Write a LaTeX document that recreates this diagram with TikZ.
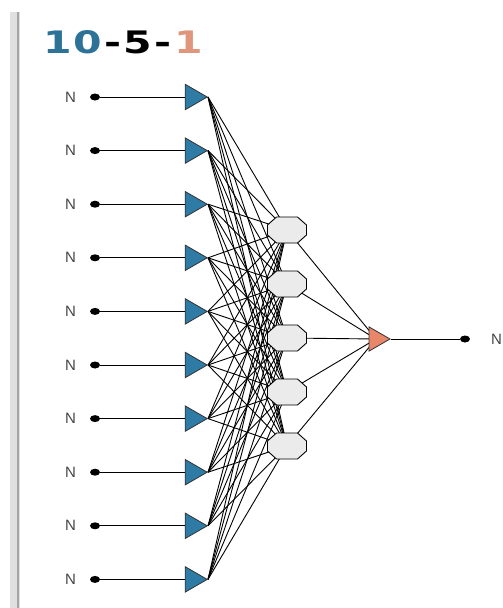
\documentclass[tikz,border=0pt]{standalone}
\usepackage{fontspec}
\setmainfont{Liberation Sans}
\newfontfamily\titlefont{DejaVu Sans}
\usetikzlibrary{shapes.geometric,backgrounds}
\definecolor{inblue}{HTML}{2E7BA6}
\definecolor{titleblue}{HTML}{2C7397}
\definecolor{titleorange}{HTML}{E0967C}
\definecolor{outorange}{HTML}{E8866A}
\definecolor{hidgray}{HTML}{EBEBEB}
\definecolor{labgray}{HTML}{454545}
\begin{document}
\begin{tikzpicture}[x=1pt,y=-1pt,
  intri/.style={regular polygon, regular polygon sides=3, shape border rotate=-90,
    minimum size=29.4pt, inner sep=0pt, fill=inblue, draw=black!80, line width=0.8pt},
  outtri/.style={regular polygon, regular polygon sides=3, shape border rotate=-90,
    minimum size=28pt, inner sep=0pt, fill=outorange, draw=black!80, line width=0.8pt},
  hidshape/.style={fill=hidgray, draw=black, line width=0.9pt, line join=round},
  dotnode/.style={ellipse, fill=black, inner sep=0pt, minimum width=10pt, minimum height=7pt},
  lab/.style={text=labgray, font=\fontsize{15}{15}\selectfont, inner sep=0pt},
  conn/.style={draw=black, line width=0.9pt}]
\useasboundingbox (0,0) rectangle (503,608);
% left frame bar
\fill[black!12] (10,12) rectangle (20,608);
\fill[black!35] (16.5,12) rectangle (18.5,608);
% title
\node[anchor=south west, inner sep=0pt] (title) at (43,54)
  {\resizebox{160pt}{23pt}{\titlefont\fontsize{31.5}{32}\selectfont\bfseries\textcolor{titleblue}{1\kern1pt0}\kern2pt-\kern2pt5\kern2pt-\kern2pt\textcolor{titleorange}{1}}};
% inputs
\foreach \i in {1,...,10}{
  \pgfmathsetmacro{\yy}{97+53.6*(\i-1)}
  \node[lab] (n\i) at (70.5,\yy) {N};
  \node[dotnode] (d\i) at (95,\yy) {};
  \node[intri] (in\i) at (192.5,\yy) {};
  \draw[conn] (d\i) -- (in\i);
}
% hidden
\foreach \j in {1,...,5}{
  \pgfmathsetmacro{\yh}{230+54*(\j-1)}
  \coordinate (h\j) at (287,\yh);
  \begin{scope}[shift={(h\j)}]
    \draw[hidshape] (-19.5,-5) -- (-10.5,-13) -- (10.5,-13) -- (19.5,-5)
      -- (19.5,5) -- (10.5,13) -- (-10.5,13) -- (-19.5,5) -- cycle;
  \end{scope}
}
% output
\node[outtri] (o) at (376,339) {};
\node[dotnode] (od) at (465,339) {};
\node[lab, anchor=west] (on) at (491,339) {N};
\draw[conn] (o) -- (od);
\begin{scope}[on background layer]
  \foreach \i in {1,...,10}{
    \foreach \j in {1,...,5}{
      \draw[conn] (in\i.east) -- (h\j);
    }
  }
  \foreach \j in {1,...,5}{
    \draw[conn] (h\j) -- (o.center);
  }
\end{scope}
\end{tikzpicture}
\end{document}
